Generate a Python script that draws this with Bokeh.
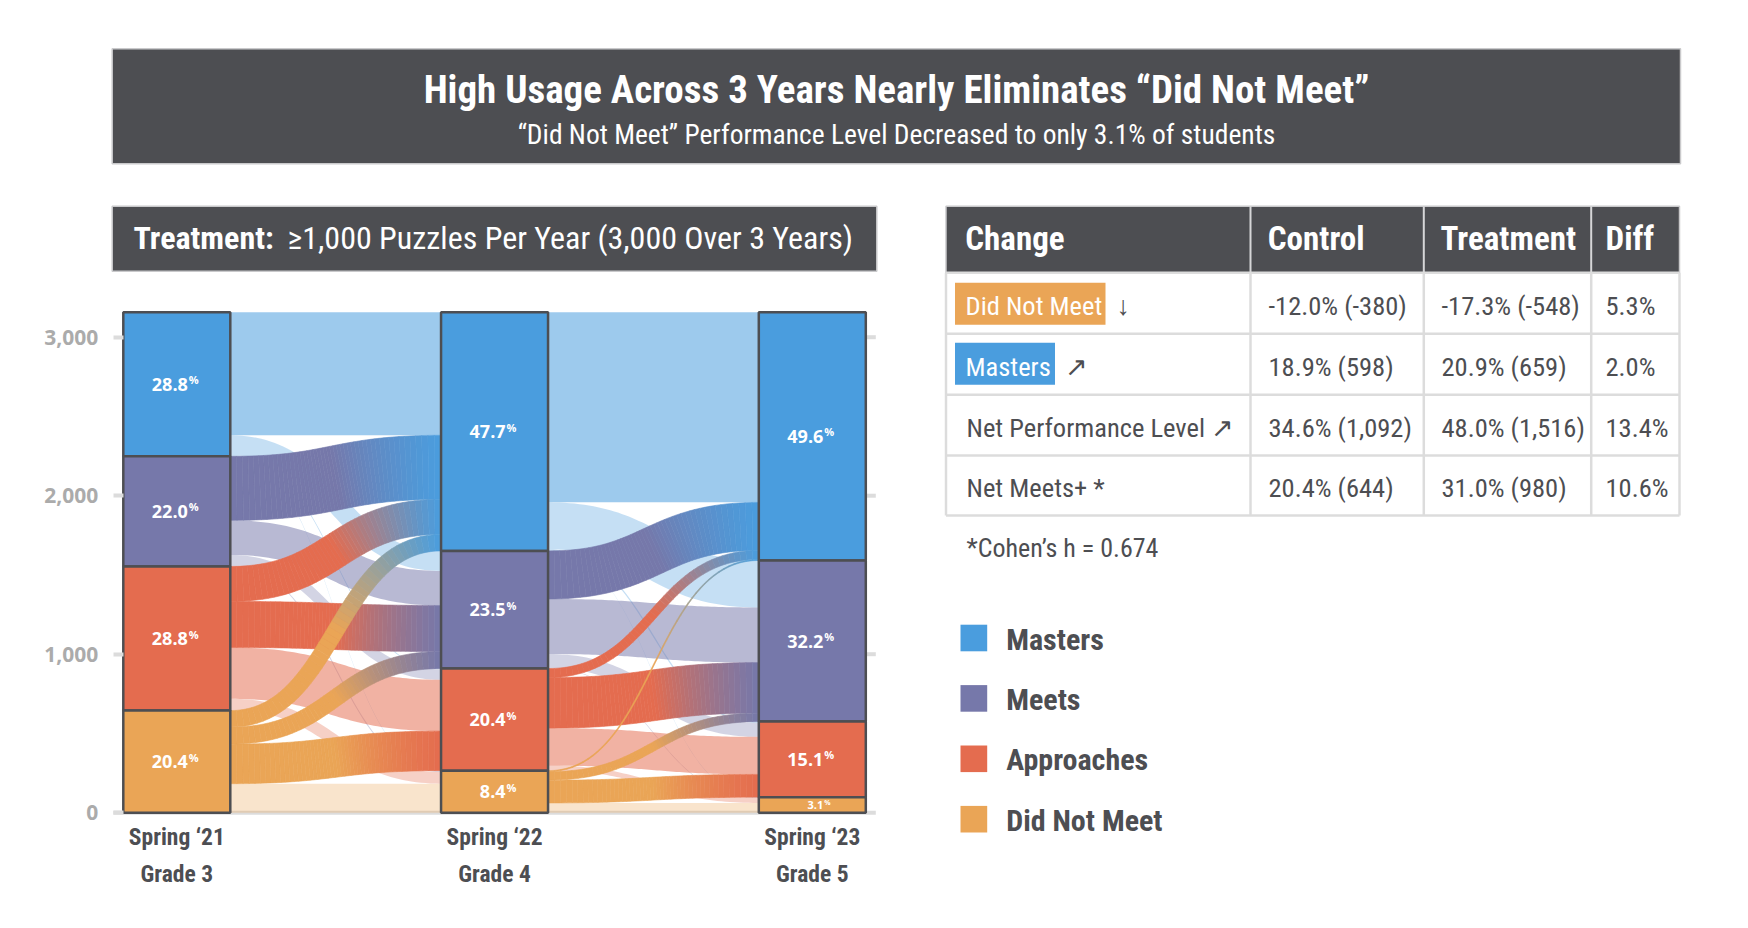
import numpy as np
from bokeh.plotting import figure
from bokeh.models import Range1d, LinearAxis, FixedTicker, NumeralTickFormatter
from bokeh.core.properties import value
from bokeh.embed import file_html
from bokeh.resources import INLINE

# ---------------- data ----------------
levels = ["Masters", "Meets", "Approaches", "Did Not Meet"]
stage_names = ["Spring \u201821", "Spring \u201822", "Spring \u201823"]
grade_names = ["Grade 3", "Grade 4", "Grade 5"]
total_students = 3158
pct_grade3 = [28.8, 22.0, 28.8, 20.4]
pct_grade4 = [47.7, 23.5, 20.4, 8.4]
pct_grade5 = [49.6, 32.2, 15.1, 3.1]
# flows in % of students; rows = from level, cols = to level (Masters, Meets, Approaches, Did Not Meet)
flow_g3_to_g4 = [[24.6, 4.0, 0.15, 0.05],
                 [12.8, 6.9, 2.1, 0.2],
                 [7.0, 9.2, 10.25, 2.35],
                 [3.3, 3.4, 7.9, 5.8]]
flow_g4_to_g5 = [[38.0, 9.4, 0.25, 0.05],
                 [9.6, 11.0, 2.8, 0.1],
                 [1.8, 10.1, 7.5, 1.0],
                 [0.2, 1.7, 4.55, 1.95]]
y_ticks = [0, 1000, 2000, 3000]

title_text = "High Usage Across 3 Years Nearly Eliminates \u201cDid Not Meet\u201d"
subtitle_text = "\u201cDid Not Meet\u201d Performance Level Decreased to only 3.1% of students"
treatment_bold = "Treatment:"
treatment_rest = "\u22651,000 Puzzles Per Year (3,000 Over 3 Years)"
table_header = ["Change", "Control", "Treatment", "Diff"]
table_change = ["Did Not Meet", "Masters", "Net Performance Level \u2197", "Net Meets+ *"]
table_control = ["-12.0% (-380)", "18.9% (598)", "34.6% (1,092)", "20.4% (644)"]
table_treatment = ["-17.3% (-548)", "20.9% (659)", "48.0% (1,516)", "31.0% (980)"]
table_diff = ["5.3%", "2.0%", "13.4%", "10.6%"]
cohen_text = "*Cohen\u2019s h = 0.674"

# ---------------- style / layout ----------------
W, H = 1730, 910
ORG = 0
COND = "'Roboto Condensed', 'Open Sans Condensed', sans-serif"
SANS = "'Open Sans', sans-serif"
DARK = "#4D4E52"
level_colors = ["#4A9DDE", "#7678AA", "#E46C4F", "#EAA556"]
same_alpha = [0.54, 0.52, 0.52, 0.30]
down_alpha = 0.32

STAGE_X0, STAGE_PX = 176.3, 317.75
ZERO_Y, COUNT_PX = 812.2, 0.1585
BAR_W = 107 / STAGE_PX

p = figure(width=W, height=H, x_range=Range1d(ORG, ORG + W), y_range=Range1d(ORG + H, ORG),
           output_backend="svg", toolbar_location=None, x_axis_type=None, y_axis_type=None,
           min_border=0, outline_line_color=None,
           background_fill_color="white", border_fill_color="white")
p.extra_x_ranges = {"stage": Range1d((ORG - STAGE_X0) / STAGE_PX, (ORG + W - STAGE_X0) / STAGE_PX)}
p.extra_y_ranges = {"count": Range1d(-(ORG + H - ZERO_Y) / COUNT_PX, (ZERO_Y - ORG) / COUNT_PX)}


def hex2rgb(h):
    return np.array([int(h[i:i + 2], 16) for i in (1, 3, 5)], float)


def mix(c1, c2, t):
    c = hex2rgb(c1) * (1 - t) + hex2rgb(c2) * t
    return "#%02x%02x%02x" % tuple(int(round(v)) for v in c)


def link_edges(x0, x1, y0, y1, w, n):
    X0, X1 = x0 * STAGE_PX, x1 * STAGE_PX
    Y0, Y1 = y0 * COUNT_PX, y1 * COUNT_PX
    Xm = (X0 + X1) / 2
    s = np.linspace(0, 1, n + 1)
    bx = (1 - s) ** 3 * X0 + 3 * (1 - s) ** 2 * s * Xm + 3 * (1 - s) * s ** 2 * Xm + s ** 3 * X1
    by = (1 - s) ** 3 * Y0 + 3 * (1 - s) ** 2 * s * Y0 + 3 * (1 - s) * s ** 2 * Y1 + s ** 3 * Y1
    dx = 3 * (1 - s) ** 2 * (Xm - X0) + 3 * s ** 2 * (X1 - Xm)
    dy = 6 * (1 - s) * s * (Y1 - Y0)
    L = np.hypot(dx, dy)
    nx, ny = -dy / L, dx / L
    hw = w * COUNT_PX / 2
    return ((bx + nx * hw) / STAGE_PX, (by + ny * hw) / COUNT_PX,
            (bx - nx * hw) / STAGE_PX, (by - ny * hw) / COUNT_PX)


def node_tops(pcts):
    tops, cur = [], total_students * sum(pcts) / 100
    for pc in pcts:
        tops.append(cur)
        cur -= total_students * pc / 100
    return tops


stage_pcts = [pct_grade3, pct_grade4, pct_grade5]
flows = [flow_g3_to_g4, flow_g4_to_g5]

# baseline and tick stubs on the right
ext = 10 / STAGE_PX
p.segment(x0=[-BAR_W / 2 - ext], x1=[2 + BAR_W / 2 + ext], y0=[0], y1=[0],
          x_range_name="stage", y_range_name="count", line_color="#DCDCDC", line_width=4)
p.segment(x0=[2 + BAR_W / 2] * 3, x1=[2 + BAR_W / 2 + ext] * 3, y0=y_ticks[1:], y1=y_ticks[1:],
          x_range_name="stage", y_range_name="count", line_color="#DCDCDC", line_width=4)

light = dict(xs=[], ys=[], color=[], alpha=[])
grad = dict(xs=[], ys=[], color=[])
NG = 48
for si, F in enumerate(flows):
    out_cur = node_tops(stage_pcts[si])
    in_cur = node_tops(stage_pcts[si + 1])
    x0, x1 = si + BAR_W / 2, si + 1 - BAR_W / 2
    for a in range(4):
        for b in range(4):
            w = total_students * F[a][b] / 100
            ys = out_cur[a] - w / 2
            yt = in_cur[b] - w / 2
            out_cur[a] -= w
            in_cur[b] -= w
            if b >= a:
                ux, uy, lx, ly = link_edges(x0, x1, ys, yt, w, 60)
                light["xs"].append(np.concatenate([ux, lx[::-1]]))
                light["ys"].append(np.concatenate([uy, ly[::-1]]))
                light["color"].append(level_colors[a])
                light["alpha"].append(same_alpha[a] if a == b else down_alpha)
            else:
                ux, uy, lx, ly = link_edges(x0, x1, ys, yt, w, NG)
                for k in range(NG):
                    grad["xs"].append([ux[k], ux[k + 1], lx[k + 1], lx[k]])
                    grad["ys"].append([uy[k], uy[k + 1], ly[k + 1], ly[k]])
                    t = (k + 0.5) / NG
                    f = min(max((t - 0.5) / 0.5, 0), 1)
                    grad["color"].append(mix(level_colors[a], level_colors[b], f))

p.patches(xs="xs", ys="ys", source=light, fill_color="color", fill_alpha="alpha", line_color=None,
          x_range_name="stage", y_range_name="count")
p.patches(xs="xs", ys="ys", source=grad, fill_color="color", line_color="color", line_width=0.6,
          x_range_name="stage", y_range_name="count")

# bars and labels
bar = dict(left=[], right=[], top=[], bottom=[], color=[], x=[], y=[], num=[], pct=[], fs=[], pfs=[], py=[])
for si, pcts in enumerate(stage_pcts):
    tops = node_tops(pcts)
    for li, pc in enumerate(pcts):
        h = total_students * pc / 100
        bar["left"].append(si - BAR_W / 2)
        bar["right"].append(si + BAR_W / 2)
        bar["top"].append(tops[li])
        bar["bottom"].append(tops[li] - h)
        bar["color"].append(level_colors[li])
        bar["x"].append(si)
        bar["y"].append(tops[li] - h / 2)
        bar["num"].append("%.1f" % pc)
        bar["pct"].append("%")
        small = h * COUNT_PX < 30
        bar["fs"].append("11px" if small else "18px")
        bar["pfs"].append("7px" if small else "11px")
        bar["py"].append(tops[li] - h / 2 + (2.5 if small else 4.5) / COUNT_PX)
p.quad(left="left", right="right", top="top", bottom="bottom", source=bar, fill_color="color",
       line_color=DARK, line_width=2.5, x_range_name="stage", y_range_name="count")
p.text(x="x", y="y", text="num", source=bar, text_font=value(SANS), text_font_style="bold",
       text_font_size="fs", text_color="white", text_align="right", text_baseline="middle",
       x_offset=11, x_range_name="stage", y_range_name="count")
p.text(x="x", y="py", text="pct", source=bar, text_font=value(SANS),
       text_font_style="bold", text_font_size="pfs", text_color="white", text_align="left",
       text_baseline="middle", x_offset=12, x_range_name="stage", y_range_name="count")

# y axis
ax = LinearAxis(y_range_name="count", x_range_name="stage", fixed_location=-BAR_W / 2,
                ticker=FixedTicker(ticks=y_ticks), formatter=NumeralTickFormatter(format="0,0"))
ax.axis_line_color = None
ax.major_tick_line_color = "#DCDCDC"
ax.major_tick_line_width = 4
ax.major_tick_out = 10
ax.major_tick_in = 0
ax.minor_tick_line_color = None
ax.major_label_standoff = 15
ax.major_label_text_font = SANS
ax.major_label_text_font_style = "bold"
ax.major_label_text_font_size = "21px"
ax.major_label_text_color = "#ABABAB"
p.add_layout(ax, "left")

# x labels
p.text(x=[0, 1, 2], y=[836.5] * 3, text=stage_names, x_range_name="stage", text_font=value(COND),
       text_font_style="bold", text_font_size="23.5px", text_color=DARK, text_align="center",
       text_baseline="alphabetic")
p.text(x=[0, 1, 2], y=[873] * 3, text=grade_names, x_range_name="stage", text_font=value(COND),
       text_font_style="bold", text_font_size="23.5px", text_color=DARK, text_align="center",
       text_baseline="alphabetic")

# ---------------- title ----------------
p.quad(left=[111.7], right=[1680], top=[48.3], bottom=[163.3], fill_color=DARK,
       line_color="#C9C9CB", line_width=1.5)
p.text(x=[896], y=[89], text=[title_text], text_font=value(COND), text_font_style="bold",
       text_font_size="39px", text_color="white", text_align="center", text_baseline="alphabetic")
p.text(x=[896], y=[134], text=[subtitle_text], text_font=value(COND),
       text_font_size="27.5px", text_color="white", text_align="center", text_baseline="alphabetic")

# treatment box
p.quad(left=[111.7], right=[876.3], top=[205.7], bottom=[270.7], fill_color=DARK,
       line_color="#C9C9CB", line_width=1.5)
p.text(x=[133], y=[237.5], text=[treatment_bold], text_font=value(COND), text_font_style="bold",
       text_font_size="32px", text_color="white", text_align="left", text_baseline="alphabetic")
p.text(x=[287], y=[237.5], text=[treatment_rest], text_font=value(COND),
       text_font_size="32px", text_color="white", text_align="left", text_baseline="alphabetic")

# ---------------- table ----------------
col_edges = [945.5, 1250, 1423.3, 1590.7, 1679]
row_edges = [205.7, 272.3, 333.3, 394.3, 455, 515]
p.quad(left=[col_edges[0]], right=[col_edges[-1]], top=[row_edges[0]], bottom=[row_edges[1]],
       fill_color=DARK, line_color="#C9C9CB", line_width=1.5)
p.segment(x0=col_edges[1:-1], x1=col_edges[1:-1], y0=[row_edges[0]] * 3, y1=[row_edges[1]] * 3,
          line_color="#D6D6D8", line_width=2)
p.segment(x0=[col_edges[0]] * 5, x1=[col_edges[-1]] * 5, y0=row_edges[1:], y1=row_edges[1:],
          line_color="#DCDCDC", line_width=2.5)
p.segment(x0=col_edges, x1=col_edges, y0=[row_edges[1]] * 5, y1=[row_edges[-1]] * 5,
          line_color="#DCDCDC", line_width=2.5)
p.text(x=[964.8, 1267.3, 1440, 1605], y=[237.5] * 4, text=table_header, text_font=value(COND),
       text_font_style="bold", text_font_size="33px", text_color="white", text_align="left",
       text_baseline="alphabetic")

row_base = [(row_edges[i + 1] + row_edges[i + 2]) / 2 + 2 for i in range(4)]
# badges
p.quad(left=[954.5, 954.5], right=[1105, 1054.5], top=[282.3, 342.3], bottom=[324.3, 384.3],
       fill_color=[level_colors[3], level_colors[0]], line_color=None)
p.text(x=[965, 965], y=row_base[:2], text=table_change[:2], text_font=value(COND),
       text_font_size="26.5px", text_color="white", text_align="left", text_baseline="alphabetic")
p.text(x=[1116, 1064], y=row_base[:2], text=["\u2193", "\u2197"], text_font=value(COND),
       text_font_size="26.5px", text_color=DARK, text_align="left", text_baseline="alphabetic")
p.text(x=[966, 966], y=row_base[2:], text=table_change[2:], text_font=value(COND),
       text_font_size="26.5px", text_color=DARK, text_align="left", text_baseline="alphabetic")
p.text(x=[1268] * 4, y=row_base, text=table_control, text_font=value(COND),
       text_font_size="26.5px", text_color=DARK, text_align="left", text_baseline="alphabetic")
p.text(x=[1441] * 4, y=row_base, text=table_treatment, text_font=value(COND),
       text_font_size="26.5px", text_color=DARK, text_align="left", text_baseline="alphabetic")
p.text(x=[1605] * 4, y=row_base, text=table_diff, text_font=value(COND),
       text_font_size="26.5px", text_color=DARK, text_align="left", text_baseline="alphabetic")
p.text(x=[966], y=[547], text=[cohen_text], text_font=value(COND),
       text_font_size="26px", text_color=DARK, text_align="left", text_baseline="alphabetic")

# ---------------- legend ----------------
leg_y = [637.5 + 60.4 * i for i in range(4)]
p.quad(left=[960] * 4, right=[986.7] * 4, top=[y - 13.3 for y in leg_y],
       bottom=[y + 13.3 for y in leg_y], fill_color=level_colors, line_color=None)
p.text(x=[1005.7] * 4, y=[y + 1 for y in leg_y], text=levels, text_font=value(COND),
       text_font_style="bold", text_font_size="30px", text_color=DARK, text_align="left",
       text_baseline="alphabetic")

open("out.html", "w").write(file_html(p, INLINE))
